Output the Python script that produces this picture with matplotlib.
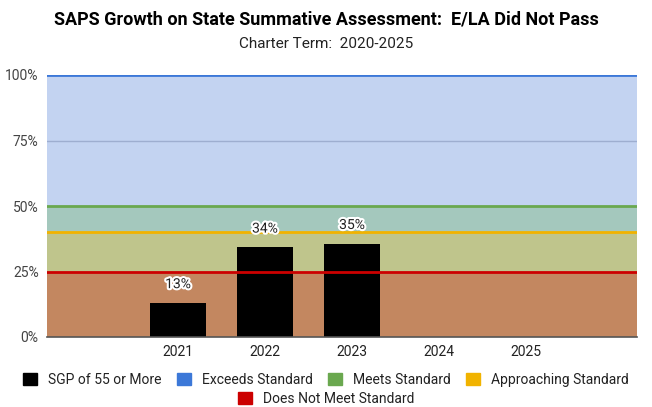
import matplotlib.pyplot as plt
import matplotlib.patheffects as pe
from matplotlib.patches import Patch

plt.rcParams['font.family'] = ['Roboto', 'DejaVu Sans']

years = ['2021', '2022', '2023', '2024', '2025']
sgp_pct = [13.0, 34.2, 35.6, None, None]
bar_labels = ['13%', '34%', '35%']

# band thresholds (percent)
does_not_meet = 25
approaching = 40
meets = 50
exceeds = 100

fig = plt.figure(figsize=(6.52, 4.07), dpi=100)
ax = fig.add_axes([47 / 652, 1 - 337 / 407, 590 / 652, 262 / 407])

ax.axhspan(0, does_not_meet, color='#c38760', zorder=0, lw=0)
ax.axhspan(does_not_meet, approaching, color='#bfc58c', zorder=0, lw=0)
ax.axhspan(approaching, meets, color='#a4c8bd', zorder=0, lw=0)
ax.axhspan(meets, exceeds, color='#c3d3f1', zorder=0, lw=0)
ax.axhline(75, color='#9eaed0', lw=1, zorder=1)

ax.axhline(does_not_meet, color='#cc0000', lw=2, zorder=3)
ax.axhline(approaching, color='#f1b300', lw=2, zorder=3)
ax.axhline(meets, color='#6aa84f', lw=2, zorder=3)
ax.axhline(exceeds, color='#3c78d8', lw=2, zorder=3)

xs = list(range(len(years)))
vals = [v for v in sgp_pct if v is not None]
ax.bar(xs[:len(vals)], vals, width=0.64, color='black', zorder=2)
for x, v, lab in zip(xs, vals, bar_labels):
    ax.text(x, v + 4.5, lab, ha='center', va='bottom', fontsize=10, color='#222',
            zorder=5, path_effects=[pe.withStroke(linewidth=3, foreground='white')])

ax.set_xlim(-1.506, 5.276)
ax.set_ylim(0, 100)
ax.set_xticks(xs)
ax.set_xticklabels(years, fontsize=10, color='#222')
ax.set_yticks([0, 25, 50, 75, 100])
ax.set_yticklabels(['0%', '25%', '50%', '75%', '100%'], fontsize=10, color='#444')
ax.tick_params(length=0, pad=6)
for s in ['top', 'right', 'left']:
    ax.spines[s].set_visible(False)
ax.spines['bottom'].set_color('#555')
ax.spines['bottom'].set_linewidth(1.2)
ax.spines['bottom'].set_zorder(4)

fig.text(0.5, 1 - 19 / 407, 'SAPS Growth on State Summative Assessment:  E/LA Did Not Pass',
         ha='center', va='center', fontsize=13, fontweight='bold', color='#000')
fig.text(0.5, 1 - 44 / 407, 'Charter Term:  2020-2025', ha='center', va='center',
         fontsize=11, color='#222')

h1 = [Patch(color='black', label='SGP of 55 or More'),
      Patch(color='#3c78d8', label='Exceeds Standard'),
      Patch(color='#6aa84f', label='Meets Standard'),
      Patch(color='#f1b300', label='Approaching Standard')]
h2 = [Patch(color='#cc0000', label='Does Not Meet Standard')]
leg_kw = dict(frameon=False, fontsize=10, handlelength=1.0, handleheight=1.0,
              handletextpad=0.8, columnspacing=1.1, labelcolor='#222')
fig.legend(handles=h1, loc='center', bbox_to_anchor=(0.5, 1 - 380 / 407), ncol=4, **leg_kw)
fig.legend(handles=h2, loc='center', bbox_to_anchor=(0.5, 1 - 399 / 407), ncol=1, **leg_kw)

fig.savefig('out.png', dpi=100)
